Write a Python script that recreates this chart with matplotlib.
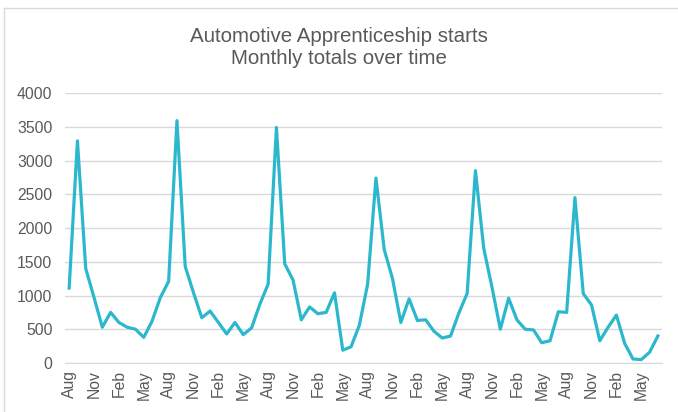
import matplotlib
matplotlib.use("Agg")
import matplotlib.pyplot as plt
from matplotlib.lines import Line2D

month_cycle = ["Aug", "Sep", "Oct", "Nov", "Dec", "Jan", "Feb", "Mar", "Apr", "May", "Jun", "Jul"]
months = month_cycle * 6

starts = [
    1110, 3290, 1400, 970, 530, 750, 600, 530, 500, 380, 620, 970,
    1210, 3590, 1430, 1040, 670, 770, 600, 430, 600, 420, 520, 870,
    1170, 3490, 1470, 1230, 640, 830, 730, 750, 1040, 190, 240, 560,
    1170, 2740, 1680, 1250, 600, 950, 630, 640, 470, 370, 400, 740,
    1030, 2850, 1700, 1120, 500, 960, 640, 500, 490, 300, 330, 760,
    750, 2450, 1030, 860, 330, 530, 710, 290, 60, 50, 160, 400,
]

title_lines = ["Automotive Apprenticeship starts", "Monthly totals over time"]
yticks = [0, 500, 1000, 1500, 2000, 2500, 3000, 3500, 4000]

W, H = 678, 412
fig = plt.figure(figsize=(W / 100, H / 100), dpi=100)
ax = fig.add_axes([65 / W, 1 - 363 / H, (662 - 65) / W, (363 - 93) / H])

x = list(range(len(starts)))
ax.plot(x, starts, color="#2CB8CC", linewidth=2.3, solid_joinstyle="round")

ax.set_xlim(-0.5, len(starts) - 0.5)
ax.set_ylim(0, 4000)
ax.set_yticks(yticks)
ax.set_yticklabels([str(v) for v in yticks])
tick_pos = [i for i in x if i % 3 == 0]
ax.set_xticks(tick_pos)
ax.set_xticklabels([months[i] for i in tick_pos], rotation=90)

ax.grid(axis="y", color="#d9d9d9", linewidth=1)
ax.set_axisbelow(True)
for s in ["top", "right", "left"]:
    ax.spines[s].set_visible(False)
ax.spines["bottom"].set_color("#d9d9d9")
ax.tick_params(axis="both", length=0, colors="#595959", labelsize=11.3)
ax.tick_params(axis="y", pad=9)
ax.tick_params(axis="x", pad=5)
for lab in ax.get_xticklabels() + ax.get_yticklabels():
    lab.set_fontfamily("Liberation Sans")

fig.text(0.5, 1 - 36 / H, title_lines[0], ha="center", va="center",
         fontsize=14.8, color="#595959", family="Liberation Sans")
fig.text(0.5, 1 - 59 / H, title_lines[1], ha="center", va="center",
         fontsize=14.8, color="#595959", family="Liberation Sans")

# chart-area border (cropped at right and bottom)
fig.add_artist(Line2D([3.5 / W, 3.5 / W], [0, 1 - 7.5 / H], transform=fig.transFigure,
                      color="#d9d9d9", linewidth=1))
fig.add_artist(Line2D([3.5 / W, 1], [1 - 7.5 / H, 1 - 7.5 / H], transform=fig.transFigure,
                      color="#d9d9d9", linewidth=1))

fig.savefig("out.png", dpi=100)
